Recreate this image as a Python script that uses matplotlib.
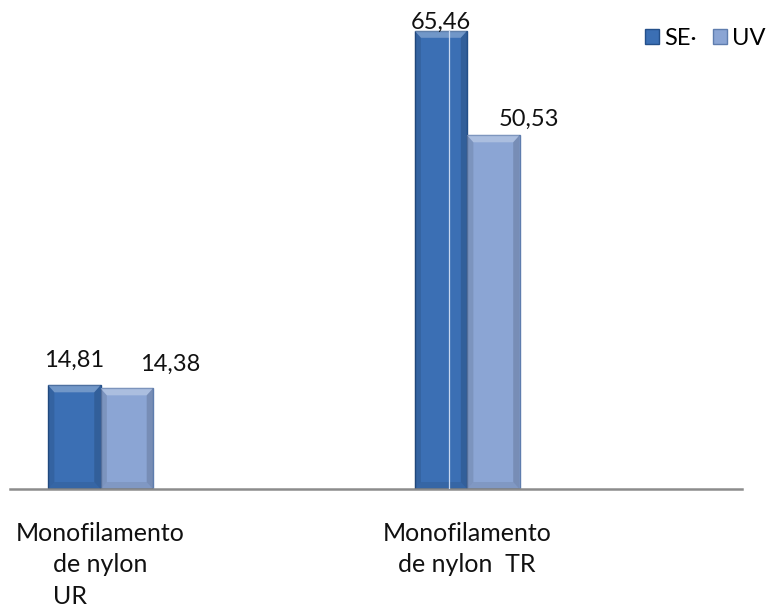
import matplotlib
matplotlib.use("Agg")
import matplotlib.pyplot as plt
import numpy as np
from matplotlib.patches import Polygon, Rectangle

plt.rcParams['font.family'] = ['Lato', 'DejaVu Sans']

categories = ["Monofilamento\nde nylon\nUR", "Monofilamento\nde nylon  TR"]
series_names = ["SE·", "UV"]
se_values = [14.81, 65.46]
uv_values = [14.38, 50.53]
value_labels_se = ["14,81", "65,46"]
value_labels_uv = ["14,38", "50,53"]

# label placement (pixels relative to bar centre / bar top)
se_label_dx = [0, 0]
se_label_dy = [18, 2]
uv_label_dx = [43, 36]
uv_label_dy = [17, 9]

se_color = "#3B6FB4"
se_edge = "#24508A"
uv_color = "#8BA5D4"
uv_edge = "#5F7DAE"

PT = 0.72  # points per pixel at 100 dpi

fig = plt.figure(figsize=(7.71, 6.09), dpi=100)
# baseline runs from x=10 to x=742 px at y=489 px
ax = fig.add_axes([10 / 771, (609 - 489) / 609, 732 / 771, (489 - 20) / 609])

x = np.arange(len(categories))
width = 0.143
ax.set_xlim(-0.247, 1.75)
ax.set_ylim(0, 67.0)


def bevel_bar(rect):
    x0, y0 = rect.get_x(), rect.get_y()
    w, h = rect.get_width(), rect.get_height()
    bx = w * 0.12
    by = 1.0
    top = Polygon([[x0, y0 + h], [x0 + w, y0 + h], [x0 + w - bx, y0 + h - by], [x0 + bx, y0 + h - by]],
                  closed=True, facecolor="white", alpha=0.28, edgecolor="none", zorder=3)
    left = Polygon([[x0, y0], [x0, y0 + h], [x0 + bx, y0 + h - by], [x0 + bx, y0 + by]],
                   closed=True, facecolor="black", alpha=0.10, edgecolor="none", zorder=3)
    right = Polygon([[x0 + w, y0], [x0 + w, y0 + h], [x0 + w - bx, y0 + h - by], [x0 + w - bx, y0 + by]],
                    closed=True, facecolor="black", alpha=0.14, edgecolor="none", zorder=3)
    bottom = Polygon([[x0, y0], [x0 + w, y0], [x0 + w - bx, y0 + by], [x0 + bx, y0 + by]],
                     closed=True, facecolor="black", alpha=0.08, edgecolor="none", zorder=3)
    for p in (top, left, right, bottom):
        ax.add_patch(p)


bars_se = ax.bar(x - width / 2, se_values, width, color=se_color, edgecolor=se_edge,
                 linewidth=1.0, zorder=2, label=series_names[0])
bars_uv = ax.bar(x + width / 2, uv_values, width, color=uv_color, edgecolor=uv_edge,
                 linewidth=1.0, zorder=2, label=series_names[1])

for r in list(bars_se) + list(bars_uv):
    bevel_bar(r)

# thin light line through the tall bar
tall = bars_se[1]
ax.plot([tall.get_x() + tall.get_width() * 0.65] * 2, [0, tall.get_height()],
        color="#C8D8F0", linewidth=0.9, zorder=4)

for bars, labels, dxs, dys in ((bars_se, value_labels_se, se_label_dx, se_label_dy),
                               (bars_uv, value_labels_uv, uv_label_dx, uv_label_dy)):
    for r, lab, dx, dy in zip(bars, labels, dxs, dys):
        ax.annotate(lab, (r.get_x() + r.get_width() / 2, r.get_height()),
                    xytext=(dx * PT, dy * PT), textcoords="offset points",
                    ha="center", va="baseline", fontsize=17, color="#111111")

for s in ["top", "right", "left"]:
    ax.spines[s].set_visible(False)
ax.spines["bottom"].set_color("#8C8C8C")
ax.spines["bottom"].set_linewidth(1.8)
ax.set_yticks([])
ax.set_xticks([])

# category labels, one text per line below the baseline
line_drop = [52, 83, 115]
fig.canvas.draw()
renderer = fig.canvas.get_renderer()
xtrans = ax.get_xaxis_transform()
for xc, cat in zip(x, categories):
    lines = cat.split("\n")
    prev = None
    for i, line in enumerate(lines):
        if i < 2:
            t = ax.annotate(line, (xc, 0), xycoords=xtrans, xytext=(0, -line_drop[i] * PT),
                            textcoords="offset points", ha="center", va="baseline",
                            fontsize=18, color="#111111", annotation_clip=False)
            prev = t
        else:
            bb = prev.get_window_extent(renderer)
            x_left = ax.transData.inverted().transform((bb.x0, 0))[0]
            ax.annotate(line, (x_left, 0), xycoords=xtrans, xytext=(0, -line_drop[i] * PT),
                        textcoords="offset points", ha="left", va="baseline",
                        fontsize=18, color="#111111", annotation_clip=False)

handles = [Rectangle((0, 0), 1, 1, facecolor=se_color, edgecolor=se_edge),
           Rectangle((0, 0), 1, 1, facecolor=uv_color, edgecolor=uv_edge)]
fig.legend(handles, series_names, loc="upper left", bbox_to_anchor=(645 / 771, 1 - 28 / 609),
           ncol=2, frameon=False, fontsize=17, handlelength=0.6, handleheight=0.6,
           handletextpad=0.2, columnspacing=0.7, borderpad=0, borderaxespad=0)

fig.savefig("out.png", dpi=100)
